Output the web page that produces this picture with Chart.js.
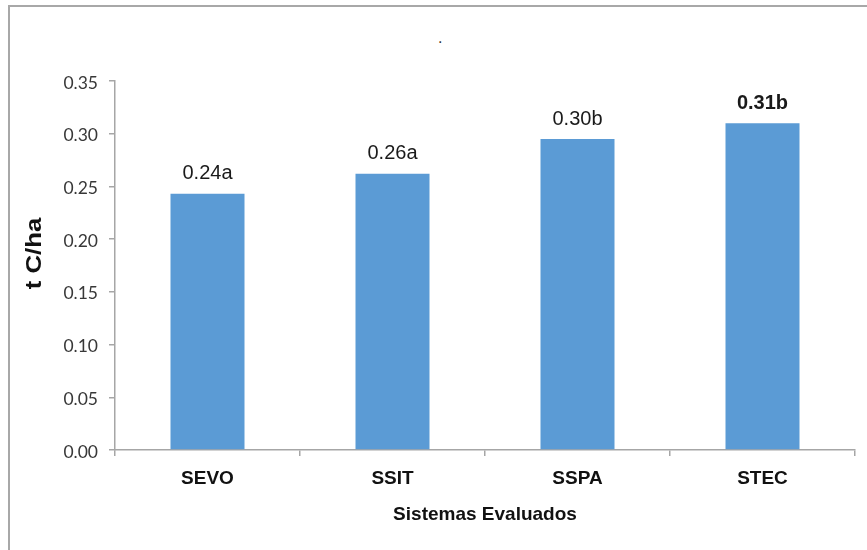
<!DOCTYPE html>
<html>
<head>
<meta charset="utf-8">
<script src="https://cdn.jsdelivr.net/npm/chart.js@4.4.1/dist/chart.umd.min.js"></script>
<style>
    body { margin: 0; background: #fff; }
    .wrap { position: relative; width: 867px; height: 550px; overflow: hidden; }
    .frame { position: absolute; left: 8px; top: 5px; width: 900px; height: 600px;
             border-top: 2px solid #a8a8a8; border-left: 2px solid #a8a8a8; }
    .dot { position: absolute; left: 438px; top: 29px; font: 16px "Liberation Sans", Arial, sans-serif; color: #333; }
    canvas { position: absolute; left: 0; top: 0; }
</style>
</head>
<body>
<div class="wrap">
    <div class="frame"></div>
    <span class="dot">.</span>
    <canvas id="barChart" width="867" height="550"></canvas>
</div>
<script>
const sistemas = ["SEVO", "SSIT", "SSPA", "STEC"];
const carbono = [0.243, 0.262, 0.295, 0.310];
const etiquetas = ["0.24a", "0.26a", "0.30b", "0.31b"];
const etiquetaNegrita = [false, false, false, true];
const yTicks = [0, 0.05, 0.10, 0.15, 0.20, 0.25, 0.30, 0.35];
const yTitulo = "t C/ha";

const axisColor = "#a6a6a6";

const valueLabels = {
    id: "valueLabels",
    afterDatasetsDraw(chart) {
        const ctx = chart.ctx;
        const meta = chart.getDatasetMeta(0);
        ctx.save();
        ctx.fillStyle = "#1a1a1a";
        ctx.textAlign = "center";
        ctx.textBaseline = "middle";
        meta.data.forEach((bar, i) => {
            ctx.font = (etiquetaNegrita[i] ? "bold " : "") + "20px 'Liberation Sans', Arial, sans-serif";
            ctx.fillText(etiquetas[i], bar.x, bar.y - 20);
        });
        ctx.restore();
    }
};

// y title drawn by hand: the original is a bit stretched along its length
const yTitle = {
    id: "yTitle",
    afterDraw(chart) {
        const ctx = chart.ctx;
        const area = chart.chartArea;
        ctx.save();
        ctx.translate(35, (area.top + area.bottom) / 2 - 12);
        ctx.rotate(-Math.PI / 2);
        ctx.scale(1.17, 1);
        ctx.fillStyle = "#111";
        ctx.textAlign = "center";
        ctx.textBaseline = "middle";
        ctx.font = "bold 22px 'Liberation Sans', Arial, sans-serif";
        ctx.fillText(yTitulo, 0, 0);
        ctx.restore();
    }
};

new Chart("barChart", {
    type: "bar",
    data: {
        labels: sistemas,
        datasets: [{
            data: carbono,
            backgroundColor: "#5b9bd5",
            borderWidth: 0,
            barPercentage: 0.4,
            categoryPercentage: 1.0
        }]
    },
    options: {
        responsive: false,
        animation: false,
        layout: { padding: { left: 0, top: 81, right: 12, bottom: 0 } },
        plugins: {
            legend: { display: false },
            tooltip: { enabled: false }
        },
        scales: {
            x: {
                afterFit(scale) { scale.height = 100; },
                border: { color: axisColor, width: 1.5 },
                grid: { drawOnChartArea: false, color: axisColor, lineWidth: 1.5, tickLength: 6 },
                ticks: {
                    color: "#111",
                    padding: 11,
                    font: { family: "'Liberation Sans', Arial, sans-serif", size: 19, weight: "bold" }
                },
                title: {
                    display: true,
                    text: "Sistemas Evaluados",
                    color: "#111",
                    padding: { top: 0, bottom: 24 },
                    font: { family: "'Liberation Sans', Arial, sans-serif", size: 19, weight: "bold" }
                }
            },
            y: {
                min: 0,
                max: 0.35,
                afterFit(scale) { scale.width = 115; },
                afterBuildTicks(scale) { scale.ticks = yTicks.map(v => ({ value: v })); },
                border: { color: axisColor, width: 1.5 },
                grid: { drawOnChartArea: false, color: axisColor, lineWidth: 1.5, tickLength: 6 },
                ticks: {
                    color: "#383838",
                    padding: 11,
                    labelOffset: 2,
                    font: { family: "Lato, 'Open Sans', sans-serif", size: 17.5 },
                    callback: v => Number(v).toFixed(2)
                }
            }
        }
    },
    plugins: [valueLabels, yTitle]
});
</script>
</body>
</html>
